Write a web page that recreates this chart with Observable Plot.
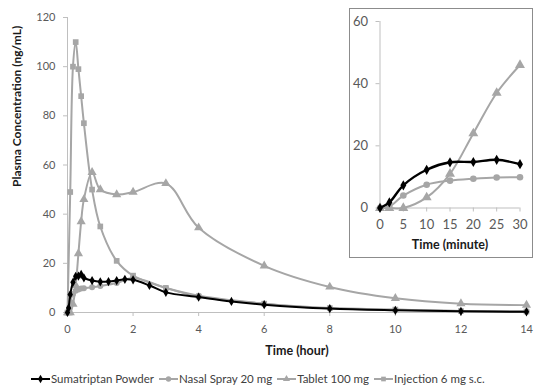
<!DOCTYPE html>
<html>
<head>
<meta charset="utf-8">
<script src="https://cdn.jsdelivr.net/npm/d3@7"></script>
<script src="https://cdn.jsdelivr.net/npm/@observablehq/plot@0.6"></script>
<style>
  body { margin: 0; background: #fff; font-family: Lato, "Open Sans", sans-serif; }
  #wrap { position: relative; width: 540px; height: 391px; overflow: hidden; background: #fff; }
  #main { position: absolute; left: 0; top: 0; }
  #inset { position: absolute; left: 349px; top: 8px; width: 182px; height: 248px; border: 1.5px solid #8c8c8c; background: #fff; }
  #legend { position: absolute; left: 31px; top: 366px; height: 25px; display: flex; align-items: center; font-size: 11.5px; color: #404040; white-space: nowrap; }
  #legend .item { display: flex; align-items: center; margin-right: 5px; }
  #legend svg { display: block; margin-right: 1px; }
</style>
</head>
<body>
<div id="wrap">
  <div id="main"></div>
  <div id="inset"></div>
  <div id="legend"></div>
</div>
<script>
// ---- data (time in minutes, concentration in ng/mL) ----
const seriesNames = ["Sumatriptan Powder", "Nasal Spray 20 mg", "Tablet 100 mg", "Injection 6 mg s.c."];

const powderMinutes = [0, 2, 5, 10, 15, 20, 25, 30, 45, 60, 75, 90, 105, 120, 150, 180, 240, 300, 360, 480, 600, 720, 840];
const powderConc    = [0, 1.8, 7.3, 12.3, 14.7, 14.8, 15.5, 14.1, 13, 12.5, 12.6, 13, 13.5, 13.3, 11, 8.2, 6.3, 4.5, 3.2, 1.6, 0.9, 0.5, 0.3];

const nasalMinutes  = [0, 2, 5, 10, 15, 20, 25, 30, 45, 60, 90, 120, 180, 240, 360, 480, 600, 720, 840];
const nasalConc     = [0, 0.5, 4, 7.5, 8.8, 9.4, 9.8, 9.9, 10.3, 10.8, 12, 14, 10, 6.8, 3.6, 1.6, 1.1, 0.6, 0.4];

const tabletMinutes = [0, 2, 5, 10, 15, 20, 25, 30, 45, 60, 90, 120, 180, 240, 360, 480, 600, 720, 840];
const tabletConc    = [0, 0, 0, 3.4, 11, 24, 37, 46, 57, 50, 48, 49, 52.5, 34.5, 19, 10.4, 5.8, 3.6, 3.0];

const injectionMinutes = [0, 5, 10, 15, 20, 25, 30, 45, 60, 90, 120, 180, 240, 360, 480, 600, 720, 840];
const injectionConc    = [0, 49, 100, 110, 99, 88, 77, 50, 35, 21, 15, 10, 6.5, 3.6, 1.8, 1.2, 0.6, 0.4];

const xTicksHour = [0, 2, 4, 6, 8, 10, 12, 14];
const yTicksMain = [0, 20, 40, 60, 80, 100, 120];
const xTicksMinute = [0, 5, 10, 15, 20, 25, 30];
const yTicksInset = [0, 20, 40, 60];

const xTitleMain = "Time (hour)";
const yTitleMain = "Plasma Concentration (ng/mL)";
const xTitleInset = "Time (minute)";

// ---- build tables ----
function rows(name, mins, conc) {
  return mins.map((m, i) => ({series: name, minute: m, hour: m / 60, conc: conc[i]}));
}
const gray = "#a6a6a6";
const specs = [
  {name: seriesNames[3], data: rows(seriesNames[3], injectionMinutes, injectionConc), color: gray, symbol: "square", r: 3.2, inset: false},
  {name: seriesNames[2], data: rows(seriesNames[2], tabletMinutes, tabletConc), color: gray, symbol: "triangle", r: 3.4, inset: true},
  {name: seriesNames[1], data: rows(seriesNames[1], nasalMinutes, nasalConc), color: gray, symbol: "circle", r: 3, inset: true},
  {name: seriesNames[0], data: rows(seriesNames[0], powderMinutes, powderConc), color: "#000", symbol: "diamond", r: 2.8, inset: true}
];

const axisColor = "#bfbfbf";
const textColor = "#595959";

// ---- main chart ----
const mainMarks = [];
for (const s of specs) {
  mainMarks.push(Plot.line(s.data, {x: "hour", y: "conc", stroke: s.color, strokeWidth: 2, curve: "catmull-rom"}));
  mainMarks.push(Plot.dot(s.data, {x: "hour", y: "conc", fill: s.color, symbol: s.symbol, r: s.r}));
}
const mainPlot = Plot.plot({
  width: 540, height: 366,
  marginLeft: 67, marginRight: 14, marginTop: 17, marginBottom: 54,
  style: {color: textColor, fontFamily: "Lato, 'Open Sans', sans-serif", background: "transparent"},
  x: {domain: [0, 14], label: null},
  y: {domain: [0, 120], label: null},
  marks: [
    Plot.ruleX([0], {stroke: axisColor}),
    Plot.ruleY([0], {stroke: axisColor}),
    Plot.axisX({ticks: xTicksHour, tickSize: 4, tickPadding: 9, fontSize: 11, stroke: axisColor, label: null}),
    Plot.axisY({ticks: yTicksMain, tickSize: 4, tickPadding: 8, fontSize: 11, stroke: axisColor, label: null}),
    ...mainMarks,
    Plot.text([xTitleMain], {text: d => d, frameAnchor: "bottom", dy: 42, fontWeight: "bold", fontSize: 12.5, fill: "#1a1a1a"}),
    Plot.text([yTitleMain], {text: d => d, frameAnchor: "left", rotate: -90, dx: -50, dy: 22, fontWeight: "bold", fontSize: 12, fill: "#1a1a1a"})
  ]
});
document.getElementById("main").appendChild(mainPlot);

// ---- inset chart (first 30 minutes) ----
const insetMarks = [];
for (const s of specs.filter(s => s.inset)) {
  const d = s.data.filter(r => r.minute <= 30);
  insetMarks.push(Plot.line(d, {x: "minute", y: "conc", stroke: s.color, strokeWidth: s.color === "#000" ? 2.4 : 2, curve: "catmull-rom"}));
  insetMarks.push(Plot.dot(d, {x: "minute", y: "conc", fill: s.color, symbol: s.symbol, r: s.r + 0.3}));
}
const insetPlot = Plot.plot({
  width: 182, height: 248,
  marginLeft: 29.5, marginRight: 12.5, marginTop: 12, marginBottom: 49.5,
  style: {color: textColor, fontFamily: "Lato, 'Open Sans', sans-serif", background: "transparent"},
  x: {domain: [0, 30], label: null},
  y: {domain: [0, 60], label: null},
  marks: [
    Plot.ruleX([0], {stroke: axisColor}),
    Plot.ruleY([0], {stroke: axisColor}),
    Plot.axisX({ticks: xTicksMinute, tickSize: 4, tickPadding: 8, fontSize: 13, stroke: axisColor, label: null}),
    Plot.axisY({ticks: yTicksInset, tickSize: 4, tickPadding: 8, fontSize: 13, stroke: axisColor, label: null}),
    ...insetMarks,
    Plot.text([xTitleInset], {text: d => d, frameAnchor: "bottom", dy: 41, fontWeight: "bold", fontSize: 12.5, fill: "#1a1a1a"})
  ]
});
document.getElementById("inset").appendChild(insetPlot);

// ---- legend ----
const legend = d3.select("#legend");
for (const s of [...specs].reverse()) {
  const item = legend.append("div").attr("class", "item");
  const svg = item.append("svg").attr("width", 19).attr("height", 10);
  svg.append("line").attr("x1", 0).attr("x2", 19).attr("y1", 5).attr("y2", 5)
    .attr("stroke", s.color).attr("stroke-width", 2);
  const sym = {circle: d3.symbolCircle, square: d3.symbolSquare, triangle: d3.symbolTriangle, diamond: d3.symbolDiamond}[s.symbol];
  svg.append("path").attr("d", d3.symbol(sym, 22)()).attr("transform", "translate(9.5,5)").attr("fill", s.color);
  item.append("span").text(s.name);
}
</script>
</body>
</html>
